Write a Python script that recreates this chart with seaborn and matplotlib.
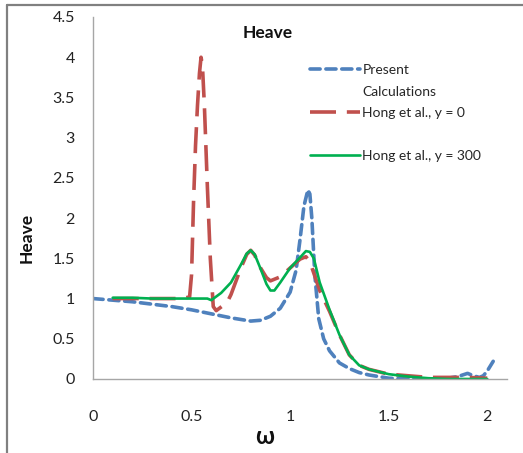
import numpy as np
import pandas as pd
import matplotlib
matplotlib.use("Agg")
import matplotlib.pyplot as plt
from matplotlib.lines import Line2D
import seaborn as sns

# Heave response amplitude versus wave frequency
present_w = [0.0, 0.1, 0.2, 0.3, 0.4, 0.5, 0.6, 0.7, 0.8, 0.85, 0.9, 0.95, 1.0,
             1.03, 1.05, 1.07, 1.09, 1.1, 1.11, 1.125, 1.145, 1.17, 1.2, 1.25,
             1.3, 1.35, 1.4, 1.5, 1.6, 1.7, 1.8, 1.85, 1.9, 1.93, 1.96, 1.98,
             2.0, 2.03]
present_h = [1.0, 0.98, 0.96, 0.93, 0.9, 0.86, 0.81, 0.76, 0.72, 0.73, 0.78,
             0.88, 1.08, 1.35, 1.73, 2.15, 2.35, 2.3, 2.0, 1.3, 0.75, 0.5,
             0.35, 0.2, 0.13, 0.08, 0.05, 0.01, 0.0, 0.0, 0.01, 0.03, 0.07,
             0.04, 0.02, 0.04, 0.1, 0.22]

hong0_w = [0.1, 0.2, 0.3, 0.4, 0.45, 0.49, 0.5, 0.51, 0.52, 0.53, 0.54, 0.548,
           0.555, 0.565, 0.58, 0.595, 0.61, 0.625, 0.68, 0.7, 0.75, 0.78, 0.8,
           0.82, 0.85, 0.88, 0.9, 0.95, 1.0, 1.05, 1.08, 1.1, 1.15, 1.2, 1.25,
           1.3, 1.35, 1.4, 1.5, 1.6, 1.7, 1.8, 1.9, 2.0]
hong0_h = [1.0, 1.0, 1.0, 1.0, 1.0, 1.02, 1.3, 2.2, 2.9, 3.4, 3.8, 4.0, 3.9,
           3.4, 2.4, 1.5, 0.9, 0.85, 0.95, 1.05, 1.38, 1.55, 1.6, 1.54, 1.38,
           1.26, 1.22, 1.27, 1.38, 1.49, 1.52, 1.46, 1.1, 0.84, 0.55, 0.3,
           0.17, 0.12, 0.06, 0.04, 0.02, 0.02, 0.02, 0.01]

hong300_w = [0.1, 0.2, 0.3, 0.4, 0.5, 0.58, 0.6, 0.65, 0.7, 0.75, 0.78, 0.8,
             0.82, 0.85, 0.88, 0.9, 0.92, 0.95, 1.0, 1.05, 1.08, 1.1, 1.12,
             1.15, 1.2, 1.25, 1.3, 1.35, 1.4, 1.5, 1.6, 1.7, 1.8, 1.9, 2.0]
hong300_h = [1.01, 1.01, 1.0, 1.0, 1.0, 1.0, 0.98, 1.07, 1.2, 1.42, 1.56, 1.6,
             1.55, 1.37, 1.18, 1.1, 1.1, 1.2, 1.38, 1.51, 1.59, 1.58, 1.5,
             1.2, 0.86, 0.55, 0.3, 0.17, 0.12, 0.06, 0.03, 0.01, 0.0, 0.0, 0.0]

legend_rows = ["Present", "Calculations", "Hong et al., y = 0", "",
               "Hong et al., y = 300"]
x_ticks = [0, 0.5, 1, 1.5, 2]
y_ticks = [0, 0.5, 1, 1.5, 2, 2.5, 3, 3.5, 4, 4.5]

sns.set_style("white")
plt.rcParams["font.family"] = ["Lato", "DejaVu Sans"]

fig = plt.figure(figsize=(5.23, 4.53), dpi=100)
ax = fig.add_axes([93 / 523, 1 - 379 / 453, 414 / 523, 362 / 453])

sns.lineplot(x=present_w, y=present_h, ax=ax, color="#4F81BD", lw=2.6,
             linestyle=(0, (2.8, 1.6)), dash_capstyle="round")
sns.lineplot(x=hong0_w, y=hong0_h, ax=ax, color="#C0504D", lw=2.6,
             linestyle=(0, (7.2, 3.0)))
sns.lineplot(x=hong300_w, y=hong300_h, ax=ax, color="#00B050", lw=1.9)

ax.set_xlim(0, 2.1)
ax.set_ylim(0, 4.5)
ax.set_xticks(x_ticks)
ax.set_xticklabels([f"{t:g}" for t in x_ticks])
ax.set_yticks(y_ticks)
ax.set_yticklabels([f"{t:g}" for t in y_ticks])

for side in ["top", "right"]:
    ax.spines[side].set_visible(False)
for side in ["left", "bottom"]:
    ax.spines[side].set_color("#A6A6A6")
    ax.spines[side].set_linewidth(1.0)
ax.tick_params(axis="both", direction="out", length=4, width=1.0,
               color="#A6A6A6", labelsize=11.5, labelcolor="#222222")
ax.tick_params(axis="x", pad=18)
ax.tick_params(axis="y", pad=9)

ax.set_xlabel("")
ax.set_ylabel("")
ax.text(0.423, 0.955, "Heave", transform=ax.transAxes, ha="center",
        va="center", fontsize=12.5, fontweight="bold", color="#111111")
fig.text(27 / 523, 1 - 238 / 453, "Heave", rotation=90, ha="center",
         va="center", fontsize=12.5, fontweight="bold", color="#111111")
fig.text(265 / 523, 1 - 437 / 453, "ω", ha="center", va="center",
         fontsize=17, fontweight="bold", color="#111111")

# Legend rows: the first entry wraps onto a second line, and a blank row
# separates the two Hong et al. entries
blue, red, green = ax.get_lines()[:3]
blank = Line2D([], [], linestyle="none")
ax.legend([blue, blank, red, blank, green], legend_rows, loc="upper left",
          bbox_to_anchor=(0.525, 0.87), frameon=False, fontsize=10,
          handlelength=3.6, handletextpad=0.15, labelspacing=0.68,
          borderaxespad=0, borderpad=0)

# Grey frame on the top and left edges of the figure
fig.add_artist(Line2D([7 / 523, 7 / 523], [0, 1 - 5 / 453],
                      transform=fig.transFigure, color="#808080", lw=1.6))
fig.add_artist(Line2D([7 / 523, 1], [1 - 5 / 453, 1 - 5 / 453],
                      transform=fig.transFigure, color="#808080", lw=1.6))

fig.savefig("out.png", dpi=100)
